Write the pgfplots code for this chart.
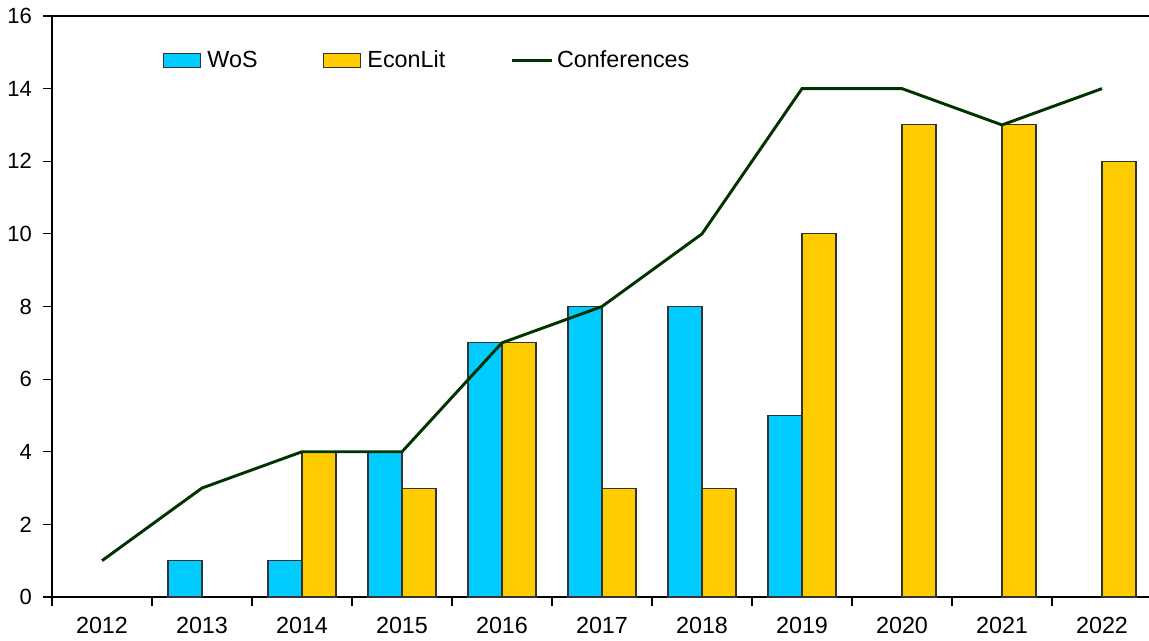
\documentclass[border=0pt]{standalone}
\usepackage{fontspec}
\setmainfont{Liberation Sans}
\usepackage{pgfplots}
\pgfplotsset{compat=1.18}
\definecolor{wos}{HTML}{00CCFF}
\definecolor{econ}{HTML}{FFCC00}
\definecolor{conf}{HTML}{003300}
\begin{document}
\begin{tikzpicture}
\begin{axis}[
  scale only axis,
  width=822.75pt, height=435.75pt,
  xmin=-0.5, xmax=10.47,
  ymin=0, ymax=16,
  axis x line*=bottom,
  axis y line*=left,
  axis line style={line width=0.9pt, black, -},
  tick align=outside,
  xtick={-0.5,0.5,1.5,2.5,3.5,4.5,5.5,6.5,7.5,8.5,9.5},
  xticklabels={},
  x tick style={draw=black, line width=0.9pt},
  extra x ticks={0,...,10},
  extra x tick labels={2012,2013,2014,2015,2016,2017,2018,2019,2020,2021,2022},
  extra x tick style={major tick length=0pt, xticklabel style={font=\fontsize{17.5}{20}\selectfont, yshift=-11.5pt}},
  ytick={0,2,...,16},
  y tick style={line width=0.9pt, black},
  major tick length=6.5pt,
  yticklabel style={font=\fontsize{16.5}{20}\selectfont, xshift=-5pt},
  /pgf/number format/assume math mode=true,
  legend style={draw=none, fill=none, at={(rel axis cs:0.101,0.924)}, anchor=west,
    legend columns=3, inner sep=0pt, column sep=0pt,
    font=\fontsize{17.5}{20}\selectfont,
    nodes={inner sep=3pt}},
  legend cell align=left,
  clip=false,
]
\addplot[ybar, bar width=0.34, bar shift=-0.17, fill=wos, draw=black!80, line width=0.8pt,
  legend image code/.code={\draw[fill=wos, draw=black!80, line width=0.8pt] (0pt,-5.25pt) rectangle (27.5pt,5.25pt);}]
  coordinates {(1,1) (2,1) (3,4) (4,7) (5,8) (6,8) (7,5)};
\addlegendentry{\makebox[85.7pt][l]{\kern2pt WoS}}
\addplot[ybar, bar width=0.34, bar shift=0.17, fill=econ, draw=black!80, line width=0.8pt,
  legend image code/.code={\draw[fill=econ, draw=black!80, line width=0.8pt] (0pt,-5.25pt) rectangle (27.5pt,5.25pt);}]
  coordinates {(2,4) (3,3) (4,7) (5,3) (6,3) (7,10) (8,13) (9,13) (10,12)};
\addlegendentry{\makebox[106pt][l]{\kern2pt EconLit}}
\addplot[conf, line width=2.2pt, mark=none,
  legend image code/.code={\draw[conf, line width=2.2pt] (0pt,0pt) -- (30pt,0pt);}]
  coordinates {(0,1) (1,3) (2,4) (3,4) (4,7) (5,8) (6,10) (7,14) (8,14) (9,13) (10,14)};
\addlegendentry{Conferences}
\draw[black, line width=0.9pt] (rel axis cs:0,1) -- (rel axis cs:1,1);
\coordinate (SW) at (rel axis cs:0,0);
\coordinate (NE) at (rel axis cs:1,1);
\end{axis}
\pgfresetboundingbox
\path ([shift={(-39pt,-33pt)}]SW) rectangle ([shift={(0pt,12pt)}]NE);
\end{tikzpicture}
\end{document}
